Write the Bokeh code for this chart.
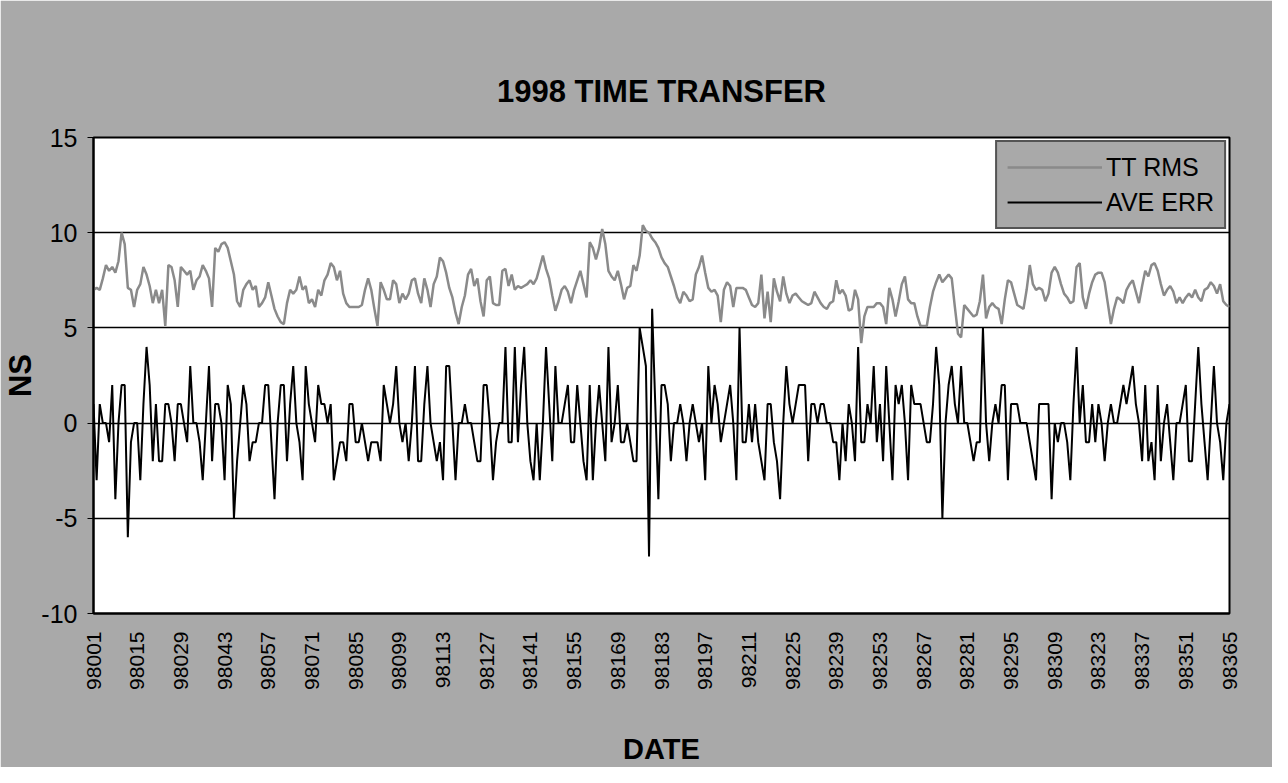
import math
from bokeh.plotting import figure
from bokeh.models import (ColumnDataSource, Range1d, FixedTicker, Legend, LegendItem, Title)
from bokeh.embed import file_html
from bokeh.resources import INLINE

# ---------------- data ----------------
tick_labels = ["98001", "98015", "98029", "98043", "98057", "98071", "98085", "98099",
               "98113", "98127", "98141", "98155", "98169", "98183", "98197", "98211",
               "98225", "98239", "98253", "98267", "98281", "98295", "98309", "98323",
               "98337", "98351", "98365"]

y_ticks = [-10, -5, 0, 5, 10, 15]
y_tick_labels = ["-10", "-5", "0", "5", "10", "15"]

tt_rms = [
    7.0, 7.1, 7.0, 7.6, 8.3, 8.0, 8.2, 7.9, 8.5, 10.0, 9.4, 7.1, 7.0, 6.1, 7.0, 7.3, 8.2, 7.8, 7.2, 6.3,
    7.0, 6.3, 7.0, 5.1, 8.3, 8.2, 7.5, 6.1, 8.2, 8.0, 7.8, 8.0, 7.0, 7.5, 7.7, 8.3, 8.0, 7.6, 6.1, 9.2,
    9.0, 9.4, 9.5, 9.2, 8.5, 7.8, 6.4, 6.1, 7.0, 7.3, 7.5, 7.0, 7.2, 6.1, 6.3, 6.6, 7.4, 6.7, 6.0, 5.6,
    5.3, 5.2, 6.3, 7.0, 6.8, 7.0, 7.7, 7.0, 7.2, 6.3, 6.5, 6.1, 7.0, 6.7, 7.5, 7.8, 8.4, 8.2, 7.5, 8.0,
    6.8, 6.3, 6.1, 6.1, 6.1, 6.1, 6.2, 7.0, 7.6, 7.0, 6.0, 5.1, 7.4, 7.0, 6.5, 6.5, 7.5, 7.3, 6.3, 6.8,
    6.5, 6.8, 7.5, 7.6, 6.8, 6.3, 7.6, 7.0, 6.1, 7.3, 7.7, 8.7, 8.5, 7.9, 7.1, 6.6, 5.8, 5.2, 6.1, 6.7,
    7.8, 8.1, 7.2, 7.6, 6.4, 5.6, 7.5, 7.7, 6.3, 6.2, 6.2, 8.0, 8.1, 7.2, 7.8, 7.0, 7.2, 7.1, 7.2, 7.3,
    7.5, 7.3, 7.6, 8.2, 8.8, 8.1, 7.6, 6.7, 5.9, 6.4, 7.0, 7.2, 6.9, 6.3, 7.0, 7.5, 8.0, 7.3, 6.6, 9.5,
    9.2, 8.6, 9.2, 10.2, 9.4, 8.0, 7.7, 7.5, 8.0, 7.3, 6.5, 7.1, 7.2, 8.3, 8.0, 8.8, 10.4, 10.1, 10.0, 9.7,
    9.5, 9.2, 8.7, 8.4, 8.2, 7.7, 7.2, 6.6, 6.3, 6.9, 6.7, 6.4, 6.5, 7.8, 8.2, 8.8, 7.9, 7.1, 6.9, 7.0,
    6.7, 5.3, 7.0, 7.4, 7.2, 6.1, 7.1, 7.1, 7.1, 7.0, 6.6, 6.2, 6.1, 6.3, 7.8, 5.5, 6.9, 5.3, 7.6, 6.9,
    6.4, 7.7, 6.8, 6.3, 6.7, 6.8, 6.6, 6.4, 6.3, 6.2, 6.3, 6.9, 6.6, 6.3, 6.1, 6.0, 6.3, 6.4, 7.5, 6.8,
    7.0, 6.7, 5.9, 6.0, 7.0, 6.5, 4.2, 5.6, 6.1, 6.1, 6.1, 6.3, 6.3, 6.1, 5.2, 7.1, 6.5, 5.6, 6.4, 7.3,
    7.7, 6.5, 6.3, 6.3, 5.6, 5.1, 5.1, 5.1, 6.1, 6.9, 7.4, 7.8, 7.4, 7.6, 7.8, 7.6, 6.1, 4.7, 4.5, 6.2,
    6.0, 5.8, 5.6, 5.7, 6.4, 7.8, 5.5, 6.1, 6.3, 6.1, 6.0, 5.2, 6.5, 7.5, 7.4, 6.8, 6.2, 6.1, 6.0, 7.0,
    8.3, 7.3, 7.0, 7.1, 7.0, 6.4, 6.8, 7.9, 8.2, 7.9, 7.3, 6.8, 6.6, 6.3, 6.4, 8.2, 8.4, 6.6, 6.0, 6.8,
    7.4, 7.8, 7.9, 7.9, 7.4, 6.3, 5.2, 6.0, 6.6, 6.5, 6.3, 7.0, 7.3, 7.5, 6.9, 6.3, 7.2, 8.0, 7.7, 8.3,
    8.4, 8.0, 7.3, 6.7, 7.0, 7.2, 6.9, 6.3, 6.6, 6.3, 6.6, 6.8, 6.6, 7.0, 6.6, 6.4, 7.0, 7.1, 7.4, 7.2,
    6.8, 7.3, 6.4, 6.2, 6.1,
]

ave_err = [
    1, -3, 1, 0, 0, -1, 2, -4, 0, 2, 2, -6, -1, 0, 0, -3, 1, 4, 2, -2,
    1, -2, -2, 1, 1, 0, -2, 1, 1, 0, -1, 3, 0, 0, -1, -3, 0, 3, -2, 1,
    1, 0, -3, 2, 1, -5, -2, 0, 2, 1, -2, -1, -1, 0, 0, 2, 2, -1, -4, 0,
    2, 2, -2, 1, 3, 0, -1, -3, 3, 1, 0, -1, 2, 1, 1, 0, 1, -3, -2, -1,
    -1, -2, 1, 1, -1, -1, 0, -1, -2, -1, -1, -1, -2, 2, 1, 0, 1, 3, 0, -1,
    0, -2, 0, 3, -2, -2, 1, 3, 0, -1, -2, -1, -3, 3, 3, 0, -3, 0, 0, 1,
    0, 0, -1, -2, -2, 2, 2, 0, -3, -1, 0, 0, 4, -1, -1, 4, -1, 2, 4, 0,
    -2, -3, 0, -3, 0, 4, 1, -2, 3, 0, 0, 1, 2, -1, -1, 2, 0, -2, -3, 2,
    -3, 0, 2, 0, -2, 4, -1, 0, 2, -1, -1, 0, -1, -2, -2, 5, 4, 3, -7, 6,
    1, -4, 2, 2, 1, -2, 0, 0, 1, 0, -2, 0, 1, 0, -1, 0, -3, 3, 0, 2,
    1, -1, 0, 1, 2, 0, -3, 5, -1, -1, 1, -1, 1, -1, -2, -3, 1, 1, -1, -2,
    -4, 0, 3, 1, 0, 1, 2, 2, 2, -2, 1, 1, 0, 1, 1, 0, 0, -1, -1, -3,
    0, -2, 1, 0, -2, 4, -1, -1, 1, 0, 3, -1, 1, -2, 3, 0, -3, 2, 1, 2,
    0, -3, 2, 1, 1, 1, 0, -1, -1, 1, 4, 2, -5, 0, 2, 3, 1, 0, 3, 0,
    0, -1, -2, -1, -1, 5, 0, -2, 0, 1, 0, 2, 2, -3, 1, 1, 1, 0, 0, 0,
    -1, -2, -3, 1, 1, 1, 1, -4, 0, -1, 0, 0, -1, -3, 1, 4, 0, 2, -1, -1,
    1, -1, 1, 0, -2, 0, 1, 0, 0, 1, 2, 1, 2, 3, 1, 0, -2, 2, -2, -1,
    -3, 2, -2, 0, 1, -1, -3, 0, 0, 1, 2, -2, -2, 1, 4, 1, -1, -3, 0, 3,
    0, -1, -3, 0, 1,
]

days = list(range(1, len(ave_err) + 1))
tick_pos = [int(t[2:]) for t in tick_labels]

# ---------------- figure ----------------
FONT = "Liberation Sans"
BG = "#a9a9a9"

p = figure(width=1272, height=767, output_backend="svg", toolbar_location=None,
           x_range=Range1d(1, 365), y_range=Range1d(-10, 15),
           min_border_left=91, min_border_right=43, min_border_top=137, min_border_bottom=153)

p.border_fill_color = BG
p.background_fill_color = "white"
p.outline_line_color = "black"
p.outline_line_width = 2

p.title = Title(text="1998 TIME TRANSFER", align="center", text_font=FONT, text_font_size="31px",
                text_font_style="bold", text_color="black", standoff=58)

src = ColumnDataSource(dict(day=days, tt=tt_rms, err=ave_err))
r1 = p.line("day", "tt", source=src, line_color="#8a8a8a", line_width=2.5)
r2 = p.line("day", "err", source=src, line_color="black", line_width=2)

# x axis
p.xaxis.ticker = FixedTicker(ticks=tick_pos)
p.xaxis.major_label_overrides = {pos: lab for pos, lab in zip(tick_pos, tick_labels)}
p.xaxis.major_label_orientation = math.pi / 2
p.xaxis.major_label_text_font = FONT
p.xaxis.major_label_text_font_size = "21px"
p.xaxis.major_label_text_color = "black"
p.xaxis.major_label_standoff = 12
p.xaxis.major_tick_line_color = None
p.xaxis.minor_tick_line_color = None
p.xaxis.axis_line_color = "black"
p.xaxis.axis_line_width = 2
p.xaxis.axis_label = "DATE"
p.xaxis.axis_label_text_font = FONT
p.xaxis.axis_label_text_font_size = "29px"
p.xaxis.axis_label_text_font_style = "bold"
p.xaxis.axis_label_text_color = "black"
p.xaxis.axis_label_standoff = 40

# y axis
p.yaxis.ticker = FixedTicker(ticks=y_ticks)
p.yaxis.major_label_overrides = {v: s for v, s in zip(y_ticks, y_tick_labels)}
p.yaxis.major_label_text_font = FONT
p.yaxis.major_label_text_font_size = "25px"
p.yaxis.major_label_text_color = "black"
p.yaxis.major_label_standoff = 10
p.yaxis.major_tick_out = 6
p.yaxis.major_tick_in = 0
p.yaxis.major_tick_line_color = "black"
p.yaxis.minor_tick_line_color = None
p.yaxis.axis_line_color = "black"
p.yaxis.axis_line_width = 2
p.yaxis.axis_label = "NS"
p.yaxis.axis_label_text_font = FONT
p.yaxis.axis_label_text_font_size = "31px"
p.yaxis.axis_label_text_font_style = "bold"
p.yaxis.axis_label_text_color = "black"
p.yaxis.axis_label_standoff = 0

p.xgrid.grid_line_color = None
p.ygrid.grid_line_color = "black"
p.ygrid.grid_line_width = 1.5
p.ygrid.grid_line_alpha = 1.0

legend = Legend(items=[LegendItem(label="TT RMS", renderers=[r1]),
                       LegendItem(label="AVE ERR", renderers=[r2])],
                location="top_right", margin=3,
                background_fill_color=BG, background_fill_alpha=1.0,
                border_line_color="black", border_line_width=2,
                label_text_font=FONT, label_text_font_size="25px",
                label_text_color="black",
                label_text_baseline="alphabetic",
                glyph_width=95, glyph_height=30, label_standoff=4,
                spacing=5, padding=10)
p.add_layout(legend)

open("out.html", "w").write(file_html(p, INLINE))
